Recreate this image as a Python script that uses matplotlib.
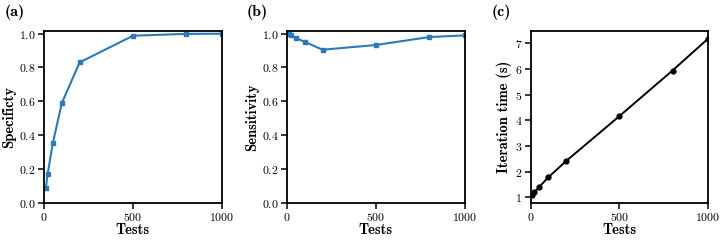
import matplotlib
matplotlib.use("Agg")
import matplotlib.pyplot as plt

plt.rcParams['font.family'] = ['cmr10', 'DejaVu Serif']
plt.rcParams['mathtext.fontset'] = 'cm'
plt.rcParams['axes.formatter.use_mathtext'] = True

# data
tests = [10, 20, 50, 100, 200, 500, 800, 1000]
specificity = [0.083, 0.166, 0.354, 0.588, 0.83, 0.988, 0.999, 1.0]
sensitivity = [0.998, 0.99, 0.974, 0.952, 0.905, 0.933, 0.98, 0.99]
iter_time = [1.08, 1.19, 1.41, 1.78, 2.41, 4.16, 5.94, 7.18]

panel_labels = ['(a)', '(b)', '(c)']
ylabels = ['Specificty', 'Sensitivity', 'Iteration time (s)']

fig = plt.figure(figsize=(7.26, 2.43), dpi=100)
W, H = 726, 243
boxes = [(44, 31, 222, 202.5), (287, 31, 464.5, 202.5), (530.5, 31, 708, 202.5)]
axes = []
for (x0, y0, x1, y1) in boxes:
    axes.append(fig.add_axes([x0 / W, 1 - y1 / H, (x1 - x0) / W, (y1 - y0) / H]))

blue = '#2a7ab9'
axes[0].plot(tests, specificity, color=blue, lw=1.5, marker='s', ms=2.5)
axes[1].plot(tests, sensitivity, color=blue, lw=1.5, marker='s', ms=2.5)
axes[2].plot(tests, iter_time, color='black', lw=1.4, marker='o', ms=3.5)

for ax in axes[:2]:
    ax.set_ylim(0, 1.016)
    ax.set_yticks([0, 0.2, 0.4, 0.6, 0.8, 1.0])
axes[2].set_ylim(0.8, 7.48)
axes[2].set_yticks([1, 2, 3, 4, 5, 6, 7])

for i, ax in enumerate(axes):
    ax.set_xlim(0, 1000)
    ax.set_xticks([0, 500, 1000])
    ax.tick_params(direction='out', length=4, width=1.1, labelsize=8.5, pad=2, colors='black')
    for s in ax.spines.values():
        s.set_linewidth(1.3)
    ax.set_xlabel('Tests', fontfamily='cmb10', fontsize=10.5, labelpad=0)
    ax.set_ylabel(ylabels[i], fontfamily='cmb10', fontsize=10.5, labelpad=2)

fig.text(5 / W, 1 - 12 / H, panel_labels[0], fontfamily='cmb10', fontsize=11.5, va='center')
fig.text(247 / W, 1 - 12 / H, panel_labels[1], fontfamily='cmb10', fontsize=11.5, va='center')
fig.text(492 / W, 1 - 12 / H, panel_labels[2], fontfamily='cmb10', fontsize=11.5, va='center')

plt.savefig('out.png', dpi=100)
